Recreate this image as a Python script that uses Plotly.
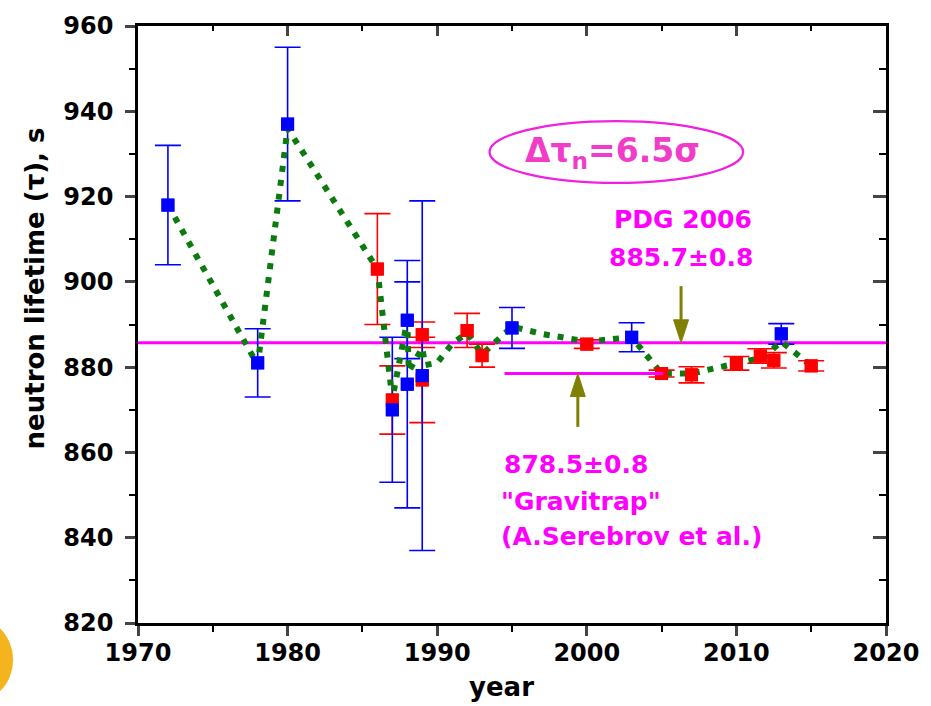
import plotly.graph_objects as go

# ---------------- data ----------------
blue_year = [1972, 1978, 1980, 1987, 1988, 1988, 1989, 1995, 2003, 2013]
blue_tau = [918, 881, 937, 870, 891, 876, 878, 889.2, 887, 887.8]
blue_err = [14, 8, 18, 17, 9, 29, 41, 4.8, 3.4, 2.4]

red_year = [1986, 1987, 1989, 1989, 1992, 1993, 2000, 2005, 2007, 2010, 2011.6, 2012.5, 2015]
red_tau = [903, 872.3, 887.6, 877, 888.6, 882.7, 885.4, 878.5, 878.2, 880.9, 882.6, 881.6, 880.3]
red_err = [13, 8, 3, 10, 4, 2.7, 1, 0.8, 1.9, 1.6, 1.7, 1.8, 1.2]

trend_year = [1972, 1978, 1980, 1986, 1987, 1988, 1988.1, 1989, 1989.2, 1990, 1991, 1992,
              1993, 1995, 1997, 2000, 2003, 2005, 2007, 2010, 2011.8, 2013, 2015]
trend_tau = [918, 880.5, 936, 903, 872.5, 891, 879, 884.5, 880.5, 881, 885.5, 888,
             883, 889.5, 887.8, 886, 887, 878.5, 878.5, 881, 882.3, 886, 880.3]

PDG_VALUE = 885.7
GRAV_VALUE = 878.5
GRAV_SPAN = [1994.5, 2005.1]
PDG_ARROW = [2006.3, 899.0]
GRAV_ARROW = [1999.4, 866.0]

x_ticks = [1970, 1980, 1990, 2000, 2010, 2020]
y_ticks = [820, 840, 860, 880, 900, 920, 940, 960]

BLUE = "#0000ff"
RED = "#ff0000"
GREEN = "#0d7a10"
MAG = "#ff00ff"
OLIVE = "#808000"
FONT = "DejaVu Sans"

fig = go.Figure()

# error-bar traces
fig.add_trace(go.Scatter(x=red_year, y=red_tau, mode="markers",
                         marker=dict(symbol="square", size=13, color=RED),
                         error_y=dict(type="data", array=red_err, color=RED, thickness=1.6, width=13),
                         showlegend=False))
fig.add_trace(go.Scatter(x=blue_year, y=blue_tau, mode="markers",
                         marker=dict(symbol="square", size=13, color=BLUE),
                         error_y=dict(type="data", array=blue_err, color=BLUE, thickness=1.6, width=13),
                         showlegend=False))
# green dotted trend
fig.add_trace(go.Scatter(x=trend_year, y=trend_tau, mode="lines",
                         line=dict(color=GREEN, width=6, dash="6px,8px"),
                         showlegend=False))
# markers on top
fig.add_trace(go.Scatter(x=red_year, y=red_tau, mode="markers",
                         marker=dict(symbol="square", size=13, color=RED), showlegend=False))
fig.add_trace(go.Scatter(x=blue_year, y=blue_tau, mode="markers",
                         marker=dict(symbol="square", size=13, color=BLUE), showlegend=False))
# invisible trace for mirrored axes (inward ticks on top / right)
fig.add_trace(go.Scatter(x=[None], y=[None], xaxis="x2", yaxis="y2", showlegend=False))

tickfont = dict(family=FONT, size=24, color="black", weight="bold")

fig.update_layout(
    width=931, height=706,
    margin=dict(l=138, r=38, t=24, b=83),
    paper_bgcolor="white", plot_bgcolor="white",
    xaxis=dict(range=[1970, 2020], tickvals=x_ticks, ticks="outside", ticklen=10, tickwidth=2.5,
               showline=True, linewidth=2.5, linecolor="black", showgrid=False, zeroline=False,
               tickfont=tickfont, ticklabelstandoff=-4,
               minor=dict(dtick=5, ticks="outside", ticklen=6, tickwidth=2, tickcolor="black")),
    yaxis=dict(range=[820, 960], tickvals=y_ticks, ticks="outside", ticklen=10, tickwidth=2.5,
               showline=True, linewidth=2.5, linecolor="black", showgrid=False, zeroline=False,
               tickfont=tickfont, ticklabelstandoff=7,
               minor=dict(dtick=10, ticks="outside", ticklen=6, tickwidth=2, tickcolor="black")),
    xaxis2=dict(range=[1970, 2020], overlaying="x", side="top", tickvals=x_ticks, ticks="inside",
                ticklen=10, tickwidth=2.5, showticklabels=False, showline=True, linewidth=2.5,
                linecolor="black", showgrid=False, zeroline=False,
                minor=dict(dtick=5, ticks="inside", ticklen=5, tickwidth=2, tickcolor="black")),
    yaxis2=dict(range=[820, 960], overlaying="y", side="right", tickvals=y_ticks, ticks="inside",
                ticklen=13, tickwidth=2.5, showticklabels=False, showline=True, linewidth=2.5,
                linecolor="black", showgrid=False, zeroline=False,
                minor=dict(dtick=10, ticks="inside", ticklen=7, tickwidth=2, tickcolor="black")),
)

shapes = []
# PDG line (full width)
shapes.append(dict(type="line", xref="x domain", yref="y", x0=0, x1=1, y0=PDG_VALUE, y1=PDG_VALUE,
                   line=dict(color=MAG, width=3), layer="below"))
# Gravitrap line
shapes.append(dict(type="line", xref="x", yref="y", x0=GRAV_SPAN[0], x1=GRAV_SPAN[1],
                   y0=GRAV_VALUE, y1=GRAV_VALUE, line=dict(color=MAG, width=3)))
# arrows
head_len = 5.4
head_half = 0.5
px, ptop = PDG_ARROW
shapes.append(dict(type="line", xref="x", yref="y", x0=px, x1=px, y0=ptop, y1=PDG_VALUE + head_len,
                   line=dict(color=OLIVE, width=3)))
shapes.append(dict(type="path", xref="x", yref="y",
                   path=f"M {px-head_half},{PDG_VALUE+head_len} L {px+head_half},{PDG_VALUE+head_len} L {px},{PDG_VALUE} Z",
                   fillcolor=OLIVE, line=dict(color=OLIVE, width=1)))
gx, gbot = GRAV_ARROW
shapes.append(dict(type="line", xref="x", yref="y", x0=gx, x1=gx, y0=gbot, y1=GRAV_VALUE - head_len,
                   line=dict(color=OLIVE, width=3)))
shapes.append(dict(type="path", xref="x", yref="y",
                   path=f"M {gx-head_half},{GRAV_VALUE-head_len} L {gx+head_half},{GRAV_VALUE-head_len} L {gx},{GRAV_VALUE} Z",
                   fillcolor=OLIVE, line=dict(color=OLIVE, width=1)))
# ellipse
shapes.append(dict(type="circle", xref="x", yref="y", x0=1993.5, x1=2010.45, y0=923.2, y1=937.7,
                   line=dict(color="#f020e0", width=2.2)))
# orange decoration circle at bottom-left
shapes.append(dict(type="circle", xref="paper", yref="paper", x0=-0.2834, x1=-0.1669,
                   y0=-0.1352, y1=0.0117, fillcolor="#f4b41e", line=dict(width=0), layer="below"))
fig.update_layout(shapes=shapes)

txt = dict(family=FONT, size=25, color=MAG, weight="bold")
ann = [
    dict(x=2001.7, y=930.4, xref="x", yref="y", text="Δτ<sub>n</sub>=6.5σ", showarrow=False,
         font=dict(family=FONT, size=33, color="#f03cc8", weight="bold")),
    dict(x=2006.4, y=914.6, xref="x", yref="y", text="PDG 2006", showarrow=False, font=txt),
    dict(x=2006.3, y=905.8, xref="x", yref="y", text="885.7±0.8", showarrow=False, font=txt),
    dict(x=1994.3, y=857.2, xref="x", yref="y", text="878.5±0.8", showarrow=False, font=txt,
         xanchor="left"),
    dict(x=1994.1, y=848.4, xref="x", yref="y", text="\"Gravitrap\"", showarrow=False, font=txt,
         xanchor="left"),
    dict(x=1994.1, y=840.2, xref="x", yref="y", text="(A.Serebrov et al.)", showarrow=False, font=txt,
         xanchor="left"),
    dict(x=-0.138, y=0.56, xref="paper", yref="paper", text="neutron lifetime (τ), s", textangle=-90,
         xanchor="center", yanchor="middle",
         showarrow=False, font=dict(family=FONT, size=26, color="black", weight="bold")),
    dict(x=0.486, y=-0.108, xref="paper", yref="paper", text="year", showarrow=False,
         xanchor="center", yanchor="middle",
         font=dict(family=FONT, size=26, color="black", weight="bold")),
]
fig.update_layout(annotations=ann)

fig.write_html("out.html")
